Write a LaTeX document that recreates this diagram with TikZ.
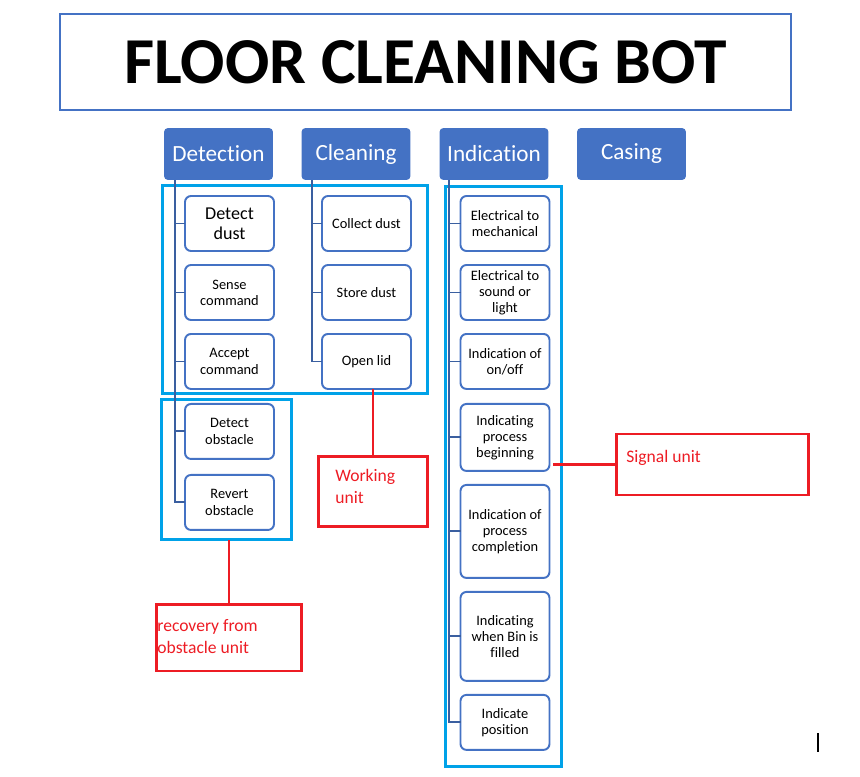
\documentclass[tikz,border=0pt]{standalone}
\usepackage{fontspec}
\setmainfont{Carlito}[Ligatures=NoCommon]
\usepackage{tikz}
\usetikzlibrary{positioning}
\definecolor{hdrblue}{HTML}{4472C4}
\definecolor{treeblue}{HTML}{3A5FA0}
\definecolor{framecyan}{HTML}{00A2E8}
\definecolor{unitred}{HTML}{ED1C24}
\tikzstyle{titlebox} = [rectangle, draw=hdrblue, line width=1pt, minimum width=14.62cm, minimum height=1.92cm, font=\fontsize{37.3}{40}\selectfont\bfseries]
\tikzstyle{header} = [rectangle, rounded corners=0.08cm, fill=hdrblue, minimum width=2.18cm, minimum height=1.04cm, text=white, font=\fontsize{13.2}{15}\selectfont]
\tikzstyle{task} = [rectangle, rounded corners=0.12cm, draw=hdrblue, line width=1.1pt, fill=white, minimum width=1.78cm, minimum height=1.1cm, align=center, inner sep=1pt, outer sep=0pt, font=\fontsize{8.2}{9.2}\selectfont]
\tikzstyle{treeline} = [draw=treeblue, line width=1.1pt]
\tikzstyle{groupframe} = [rectangle, draw=framecyan, line width=1.7pt, inner sep=0pt, outer sep=0pt]
\tikzstyle{unitbox} = [rectangle, draw=unitred, line width=1.7pt, inner sep=0pt, outer sep=0pt]
\tikzstyle{unittext} = [text=unitred, inner sep=0pt, anchor=north west, align=left, font=\fontsize{10}{12.5}\selectfont]
\tikzstyle{redline} = [draw=unitred, line width=1.7pt]

\begin{document}
\begin{tikzpicture}[x=0.02cm, y=-0.02cm]
        \useasboundingbox (0,0) rectangle (860,777);
        % Title
        \node (title) [titlebox] at (425.5,62) {FLOOR CLEANING BOT};

        % Frames round the groups
        \node (workframe) [groupframe, minimum width=5.32cm, minimum height=4.18cm] at (295,289.5) {};
        \node (obstframe) [groupframe, minimum width=2.62cm, minimum height=2.82cm] at (226.5,469.5) {};
        \node (signframe) [groupframe, minimum width=2.34cm, minimum height=11.62cm] at (503.5,476.5) {};

        % Headers
        \node (det) [header] at (218.5,154) {Detection};
        \node (cln) [header] at (356,154) {Cleaning};
        \node (ind) [header] at (494,154) {Indication};
        \node (cas) [header] at (631.5,154) {Casing};

        % Detection tasks
        \node (dd) [task, font=\fontsize{10.3}{11.3}\selectfont] at (229.5,223.5) {Detect\\dust};
        \node (sc) [task, below=0.28cm of dd] {Sense\\command};
        \node (ac) [task, below=0.28cm of sc] {Accept\\command};
        \node (do) [task, below=0.3cm of ac] {Detect\\obstacle};
        \node (ro) [task, below=0.32cm of do] {Revert\\obstacle};

        % Cleaning tasks
        \node (cd) [task] at (366.5,223.5) {Collect dust};
        \node (sd) [task, below=0.28cm of cd] {Store dust};
        \node (ol) [task, below=0.28cm of sd] {Open lid};

        % Indication tasks
        \node (em) [task] at (505,223.5) {Electrical to\\mechanical};
        \node (esl) [task, below=0.28cm of em] {Electrical to\\sound or\\light};
        \node (ioo) [task, below=0.28cm of esl] {Indication of\\on/off};
        \node (ipb) [task, below=0.3cm of ioo, minimum height=1.34cm] {Indicating\\process\\beginning};
        \node (ipc) [task, below=0.28cm of ipb, minimum height=1.86cm] {Indication of\\process\\completion};
        \node (ibf) [task, below=0.28cm of ipc, minimum height=1.78cm] {Indicating\\when Bin is\\filled};
        \node (ip) [task, below=0.28cm of ibf] {Indicate\\position};

        % Units
        \node (work) [unitbox, minimum width=2.2cm, minimum height=1.42cm,
            label={[unittext, xshift=0.34cm, yshift=-0.26cm]north west:{Working\\unit}}] at (373,491.5) {};
        \node (recov) [unitbox, minimum width=2.92cm, minimum height=1.34cm,
            label={[unittext, xshift=0.02cm, yshift=-0.3cm]north west:{recovery from\\obstacle unit}}] at (229,637.5) {};
        \node (sign) [unitbox, minimum width=3.86cm, minimum height=1.22cm,
            label={[unittext, xshift=0.2cm, yshift=-0.32cm]north west:{Signal unit}}] at (712.5,464.5) {};

        % Tree lines
        \draw [treeline] (det.south west) ++(11,0) coordinate (dl) |- (dd.west);
        \draw [treeline] (dl) |- (sc.west);
        \draw [treeline] (dl) |- (ac.west);
        \draw [treeline] (dl) |- (do.west);
        \draw [treeline] (dl) |- (ro.west);
        \draw [treeline] (cln.south west) ++(11,0) coordinate (cl) |- (cd.west);
        \draw [treeline] (cl) |- (sd.west);
        \draw [treeline] (cl) |- (ol.west);
        \draw [treeline] (ind.south west) ++(10,0) coordinate (il) |- (em.west);
        \draw [treeline] (il) |- (esl.west);
        \draw [treeline] (il) |- (ioo.west);
        \draw [treeline] (il) |- (ipb.west);
        \draw [treeline] (il) |- (ipc.west);
        \draw [treeline] (il) |- (ibf.west);
        \draw [treeline] (il) |- (ip.west);

        % Red links to the units
        \draw [redline] (work.north) -- (work.north |- ol.south);
        \draw [redline] (recov.north) -- (recov.north |- obstframe.south);
        \draw [redline] (sign.west) -- ([xshift=0.08cm]sign.west -| ipb.east);

        % text cursor
        \draw [line width=0.6pt] (818,733) -- (818,752);
    \end{tikzpicture}
\end{document}
